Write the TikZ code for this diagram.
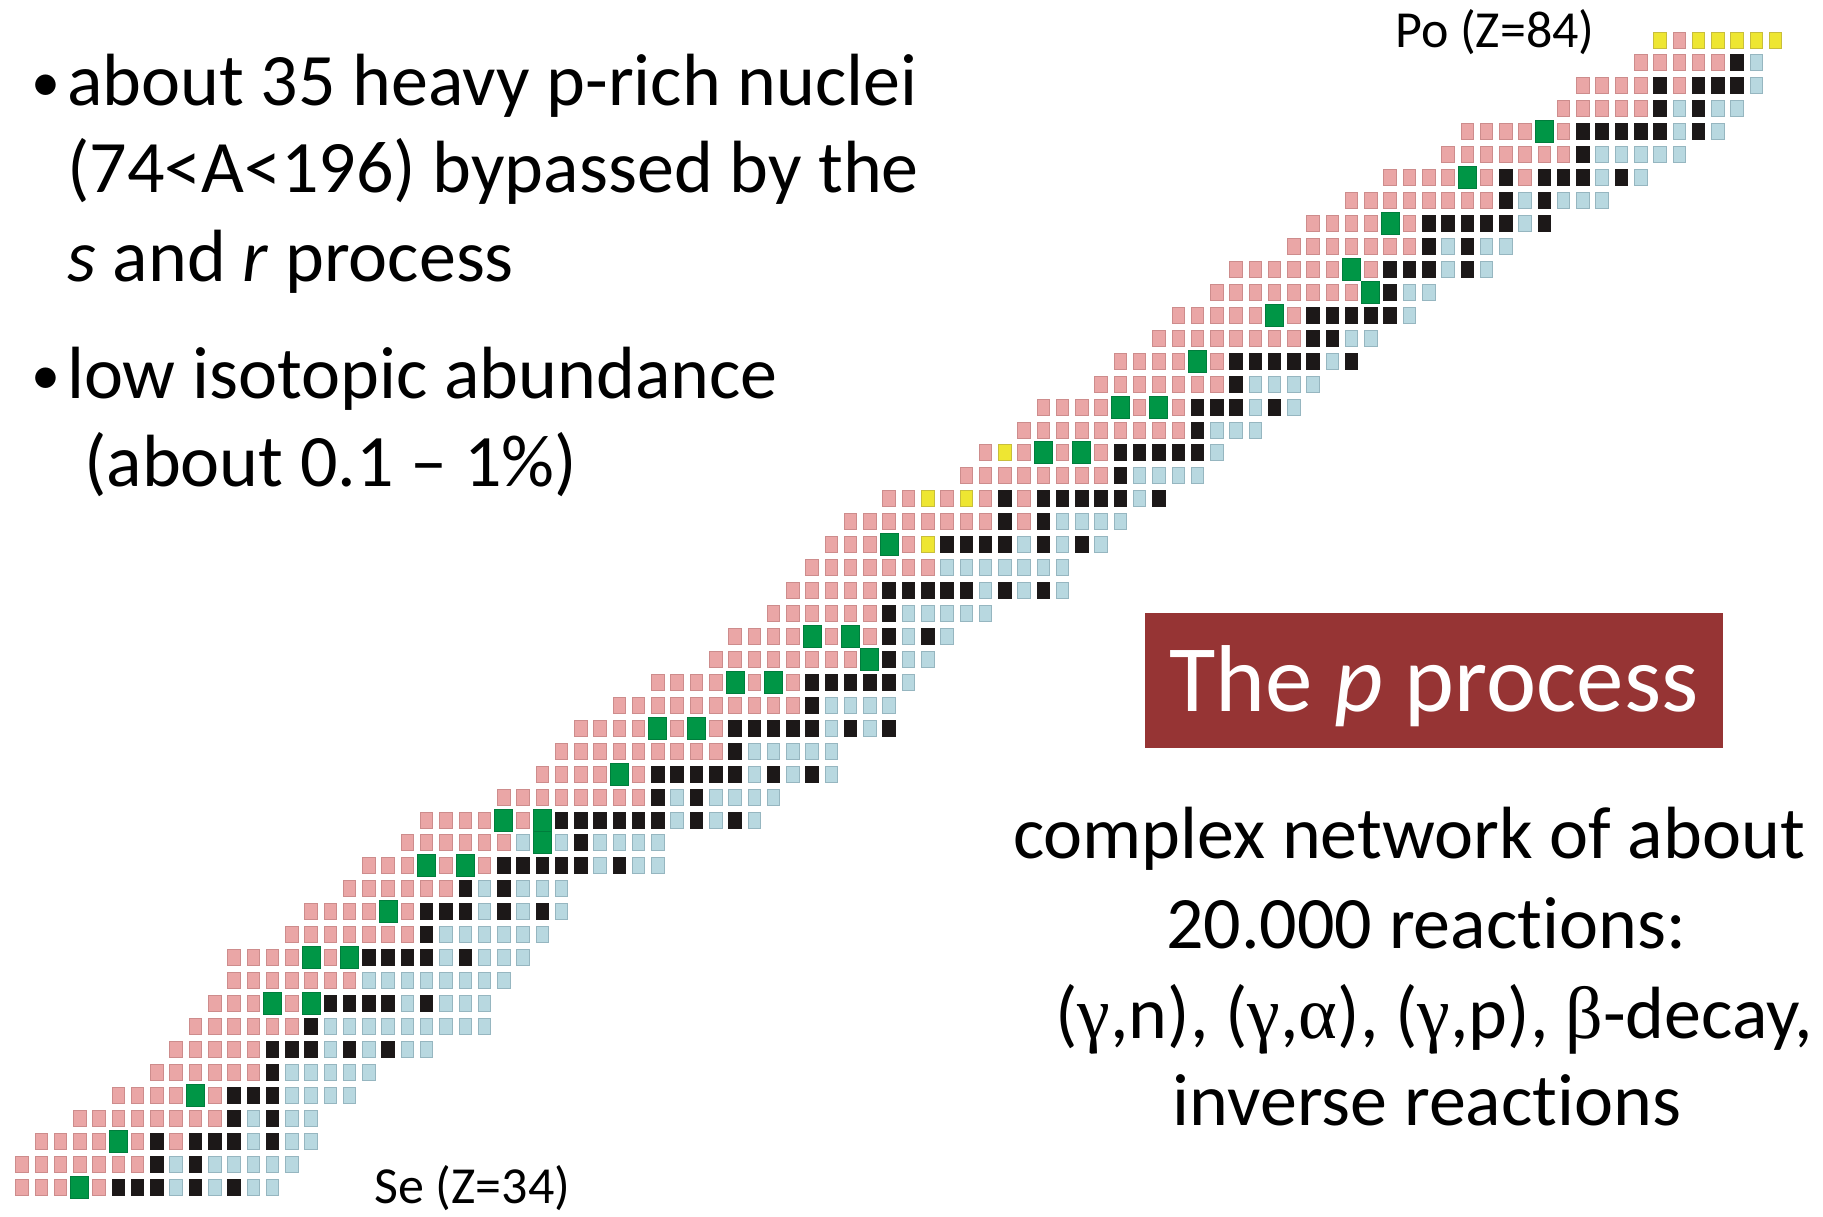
\documentclass[tikz,border=0pt]{standalone}
\usepackage{fontspec}
\setmainfont{Carlito}[Ligatures=NoCommon]
\newfontfamily\grk{Liberation Serif}
\definecolor{pk}{RGB}{234,166,166}
\definecolor{pkd}{RGB}{205,140,140}
\definecolor{bl}{RGB}{184,216,224}
\definecolor{bld}{RGB}{150,182,192}
\definecolor{kk}{RGB}{28,24,24}
\definecolor{gr}{RGB}{0,150,70}
\definecolor{grd}{RGB}{0,125,60}
\definecolor{yl}{RGB}{238,230,50}
\definecolor{yld}{RGB}{200,190,60}
\definecolor{boxred}{RGB}{150,52,52}
\newcommand\crow[3]{%
  \foreach \c [count=\i from 0] in {#3} {%
    \pgfmathtruncatemacro\nn{#2+\i}%
    \node[cell\c] (c-#1-\nn) at ({22+19.27*(\nn-37)},{1187-22.94*(#1-34)}) {};%
  }%
}
\begin{document}
\begin{tikzpicture}[x=1pt,y=-1pt,
  cellbase/.style={rectangle,inner sep=0pt,outer sep=0pt,minimum width=12.5pt,minimum height=16pt,line width=0.9pt},
  cellP/.style={cellbase,fill=pk,draw=pkd},
  cellB/.style={cellbase,fill=bl,draw=bld},
  cellK/.style={cellbase,fill=kk,draw=kk},
  cellY/.style={cellbase,fill=yl,draw=yld},
  cellG/.style={cellbase,fill=gr,draw=grd,minimum width=18pt,minimum height=22pt},
  body/.style={inner sep=0pt,font=\fontsize{74}{88}\selectfont},
  bullet/.style={inner sep=0pt,font=\fontsize{58}{70}\selectfont},
  lab/.style={inner sep=0pt,font=\fontsize{52}{60}\selectfont},
  redbox/.style={rectangle,fill=boxred,inner sep=0pt,minimum width=578pt,minimum height=135pt}
]
\useasboundingbox (0,0) rectangle (1823,1216);
\fill[white] (0,0) rectangle (1823,1216);
% chart of nuclides, rows Z=34..84, columns N
\crow{34}{37}{P,P,P,G,P,K,K,K,B,K,B,K,B,B}
\crow{35}{37}{P,P,P,P,P,P,P,K,B,K,B,B,B,B,B}
\crow{36}{38}{P,P,P,P,G,P,K,P,K,K,K,B,K,B,B}
\crow{37}{40}{P,P,P,P,P,P,P,P,K,B,K,B,B}
\crow{38}{42}{P,P,P,P,G,P,K,K,K,B,B,B,B}
\crow{39}{44}{P,P,P,P,P,P,K,B,B,B,B,B}
\crow{40}{45}{P,P,P,P,P,K,K,K,B,K,B,K,B,B}
\crow{41}{46}{P,P,P,P,P,P,K,B,B,B,B,B,B,B,B,B}
\crow{42}{47}{P,P,P,G,P,G,K,K,K,K,B,K,B,B,B}
\crow{43}{48}{P,P,P,P,P,P,P,B,B,B,B,B,B,B,B}
\crow{44}{48}{P,P,P,P,G,P,G,K,K,K,K,B,K,B,B,B}
\crow{45}{51}{P,P,P,P,P,P,P,K,B,B,B,B,B,B}
\crow{46}{52}{P,P,P,P,G,P,K,K,K,B,K,B,K,B}
\crow{47}{54}{P,P,P,P,P,P,K,B,K,B,B,B}
\crow{48}{55}{P,P,P,G,P,G,P,K,K,K,K,K,B,K,B,B}
\crow{49}{57}{P,P,P,P,P,P,B,G,B,K,B,B,B,B}
\crow{50}{58}{P,P,P,P,G,P,G,K,K,K,K,K,K,B,K,B,K,B}
\crow{51}{62}{P,P,P,P,P,P,P,P,K,B,K,B,B,B,B}
\crow{52}{64}{P,P,P,P,G,P,K,K,K,K,K,B,K,B,K,B}
\crow{53}{65}{P,P,P,P,P,P,P,P,P,K,B,B,B,B,B}
\crow{54}{66}{P,P,P,P,G,P,G,P,K,K,K,K,K,B,K,B,K}
\crow{55}{68}{P,P,P,P,P,P,P,P,P,P,K,B,B,B,B}
\crow{56}{70}{P,P,P,P,G,P,G,P,K,K,K,K,K,B}
\crow{57}{73}{P,P,P,P,P,P,P,P,G,K,B,B}
\crow{58}{74}{P,P,P,P,G,P,G,P,K,B,K,B}
\crow{59}{76}{P,P,P,P,P,P,K,B,B,B,B,B}
\crow{60}{77}{P,P,P,P,P,K,K,K,K,K,B,K,B,K,B}
\crow{61}{78}{P,P,P,P,P,P,P,B,B,B,B,B,B,B}
\crow{62}{79}{P,P,P,G,P,Y,K,K,K,K,B,K,B,K,B}
\crow{63}{80}{P,P,P,P,P,P,P,P,K,P,K,B,B,B,B}
\crow{64}{82}{P,P,Y,P,Y,P,K,P,K,K,K,K,K,B,K}
\crow{65}{86}{P,P,P,P,P,P,P,P,K,B,B,B,B}
\crow{66}{87}{P,Y,P,G,P,G,P,K,K,K,K,K,B}
\crow{67}{89}{P,P,P,P,P,P,P,P,P,K,B,B,B}
\crow{68}{90}{P,P,P,P,G,P,G,P,K,K,K,B,K,B}
\crow{69}{93}{P,P,P,P,P,P,P,K,B,B,B,B}
\crow{70}{94}{P,P,P,P,G,P,K,K,K,K,K,B,K}
\crow{71}{96}{P,P,P,P,P,P,P,P,K,K,B,B}
\crow{72}{97}{P,P,P,P,P,G,P,K,K,K,K,K,B}
\crow{73}{99}{P,P,P,P,P,P,P,P,G,K,B,B}
\crow{74}{100}{P,P,P,P,P,P,G,P,K,K,K,B,K,B}
\crow{75}{103}{P,P,P,P,P,P,P,K,B,K,B,B}
\crow{76}{104}{P,P,P,P,G,P,K,K,K,K,K,B,K}
\crow{77}{106}{P,P,P,P,P,P,P,P,K,B,K,B,B,B}
\crow{78}{108}{P,P,P,P,G,P,K,P,K,K,K,B,K,B}
\crow{79}{111}{P,P,P,P,P,P,P,K,B,B,B,B,B}
\crow{80}{112}{P,P,P,P,G,P,K,K,K,K,K,B,K,B}
\crow{81}{117}{P,P,P,P,P,K,B,K,B,B}
\crow{82}{118}{P,P,P,P,K,P,K,K,K,B}
\crow{83}{121}{P,P,P,P,P,K,B}
\crow{84}{122}{Y,P,Y,Y,Y,Y,Y}
% labels
\node[lab,anchor=base west] (po) at (1395,47) {Po (Z=84)};
\node[lab,anchor=base west] (se) at (374,1203) {Se (Z=34)};
% left text
\node[bullet,anchor=base west] (b1) at (31,101) {•};
\node[body,anchor=base west] (t1) at (67,105) {about 35 heavy p-rich nuclei};
\node[body,anchor=base west] (t2) at (67,192) {(74<A<196) bypassed by the};
\node[body,anchor=base west] (t3) at (67,281) {\textit{s} and \textit{r} process};
\node[bullet,anchor=base west] (b2) at (31,394) {•};
\node[body,anchor=base west] (t4) at (67,398) {low isotopic abundance};
\node[body,anchor=base west] (t5) at (84,486) {(about 0.1 – 1\%)};
% title box
\node[redbox] (box) at (1434,680.5) {};
\node[anchor=base,inner sep=0pt,text=white,font=\fontsize{95}{110}\selectfont] (title) at (box.center |- 0,711) {The \textit{p} process};
% right text
\node[body,anchor=base] (r1) at (1409,858) {complex network of about};
\node[body,anchor=base] (r2) at (1426,948) {20.000 reactions:};
\node[body,anchor=base] (r3) at (1434,1038) {({\grk γ},n), ({\grk γ},{\grk α}), ({\grk γ},p), {\grk β}-decay,};
\node[body,anchor=base] (r4) at (1427,1125) {inverse reactions};
\end{tikzpicture}
\end{document}
